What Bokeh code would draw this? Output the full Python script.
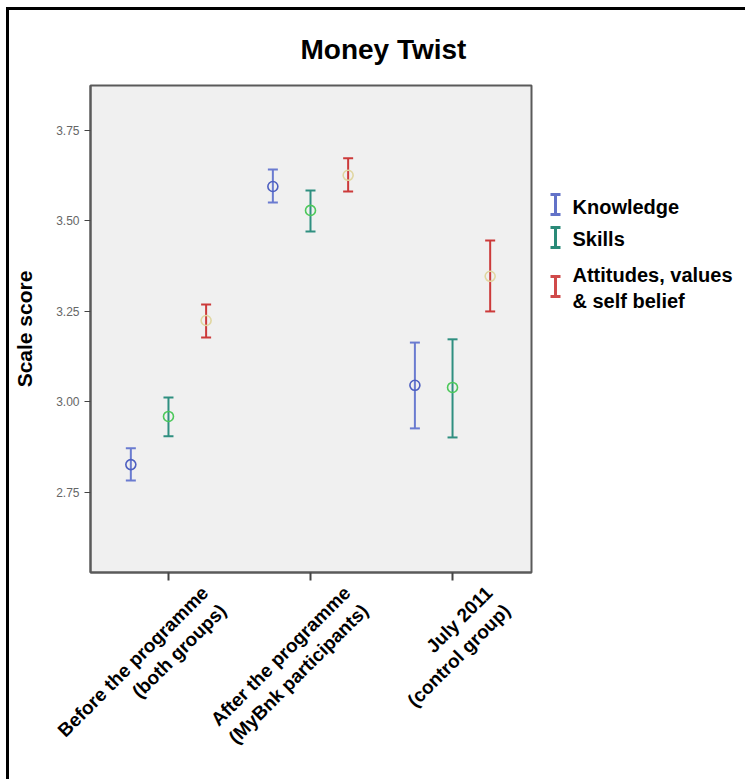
from bokeh.plotting import figure
from bokeh.models import Range1d, FixedTicker, PrintfTickFormatter, LinearAxis
from bokeh.layouts import row
from bokeh.core.properties import value
from bokeh.embed import file_html
from bokeh.resources import INLINE
from math import pi

# ---- data ----
categories = ["Before the programme\n(both groups)",
              "After the programme\n(MyBnk participants)",
              "July 2011\n(control group)"]
series_names = ["Knowledge", "Skills", "Attitudes, values\n& self belief"]

means_knowledge = [2.827, 3.595, 3.046]
low_knowledge = [2.783, 3.551, 2.927]
high_knowledge = [2.872, 3.642, 3.164]

means_skills = [2.960, 3.529, 3.040]
low_skills = [2.905, 3.471, 2.902]
high_skills = [3.012, 3.584, 3.173]

means_attitudes = [3.225, 3.626, 3.347]
low_attitudes = [3.178, 3.581, 3.250]
high_attitudes = [3.269, 3.673, 3.446]

y_ticks = [2.75, 3.00, 3.25, 3.50, 3.75]

# ---- styling ----
FONT = "Liberation Sans"
dodge = [-0.265, 0.0, 0.265]
label_shift = 0.32
marker_colors = ["#4d5fc0", "#4cc85a", "#e0d6a0"]
bar_colors = ["#6a7bd0", "#2f8f80", "#cc3a3a"]
icon_colors = ["#6272c8", "#2a8a78", "#d04a4a"]

Y0, Y1 = 2.529, 3.874
p = figure(width=531, height=769, output_backend="svg", toolbar_location=None,
           x_range=Range1d(0.451, 3.556), y_range=Range1d(Y0, Y1),
           min_border_left=81, min_border_right=9, min_border_top=75,
           min_border_bottom=207)

p.background_fill_color = "#f0f0f0"
p.border_fill_color = "white"
p.outline_line_color = "#5a5a5a"
p.outline_line_width = 2
p.xgrid.visible = False
p.ygrid.visible = False

p.title.text = "Money Twist"
p.title.text_font = FONT
p.title.text_font_style = "bold"
p.title.text_font_size = "28px"
p.title.align = "left"
p.title.offset = 210
p.title.standoff = 41
p.title.text_color = "black"

# y axis
p.yaxis.ticker = FixedTicker(ticks=y_ticks)
p.yaxis.formatter = PrintfTickFormatter(format="%.2f")
p.yaxis.major_label_text_font = FONT
p.yaxis.major_label_text_font_size = "12px"
p.yaxis.major_label_text_color = "#666666"
p.yaxis.major_tick_line_color = "#444444"
p.yaxis.major_tick_out = 6
p.yaxis.major_tick_in = 0
p.yaxis.minor_tick_line_color = None
p.yaxis.axis_line_color = "#5a5a5a"
p.yaxis.axis_line_width = 2
p.yaxis.major_label_standoff = 5
p.yaxis.axis_label = "Scale score"
p.yaxis.axis_label_text_font = FONT
p.yaxis.axis_label_text_font_style = "bold"
p.yaxis.axis_label_text_font_size = "21px"
p.yaxis.axis_label_text_color = "black"
p.yaxis.axis_label_standoff = 17

# x axis: ticks at the categories
xpos = [i + 1 for i in range(len(categories))]
tick_axis = p.below[0]
tick_axis.ticker = FixedTicker(ticks=xpos)
tick_axis.major_label_text_color = None
tick_axis.major_label_text_font_size = "1px"
tick_axis.major_tick_line_color = "#444444"
tick_axis.major_tick_line_width = 2
tick_axis.major_tick_out = 8
tick_axis.major_tick_in = 0
tick_axis.minor_tick_line_color = None
tick_axis.axis_line_color = "#5a5a5a"
tick_axis.axis_line_width = 2
tick_axis.major_label_standoff = 0

# x axis: slanted category labels
label_ticks = [x + label_shift for x in xpos]
lab_axis = LinearAxis(ticker=FixedTicker(ticks=label_ticks),
                      major_label_overrides={t: c for t, c in zip(label_ticks, categories)},
                      major_label_orientation=pi / 4,
                      major_label_text_font=FONT, major_label_text_font_style="bold",
                      major_label_text_font_size="19px", major_label_text_color="black",
                      major_label_standoff=18,
                      axis_line_color=None, major_tick_line_color=None,
                      minor_tick_line_color=None, major_tick_out=0, major_tick_in=0)
p.add_layout(lab_axis, "below")

# error bars with means
data = [(means_knowledge, low_knowledge, high_knowledge),
        (means_skills, low_skills, high_skills),
        (means_attitudes, low_attitudes, high_attitudes)]
for si, (m, lo, hi) in enumerate(data):
    xs = [x + dodge[si] for x in xpos]
    p.segment(x0=xs, y0=lo, x1=xs, y1=hi, line_color=bar_colors[si], line_width=2)
    p.scatter(x=xs + xs, y=lo + hi, marker="dash", size=10, line_color=bar_colors[si], line_width=2)
    p.scatter(x=xs, y=m, marker="circle", size=10, fill_color=None,
              line_color=marker_colors[si], line_width=1.6)

# ---- legend panel (pixel layout space, measured from the top of the plot area) ----
leg = figure(width=205, height=769, output_backend="svg", toolbar_location=None,
             x_range=Range1d(0, 205), y_range=Range1d(487, 0),
             min_border=0, outline_line_color=None)
leg.axis.visible = False
leg.grid.visible = False
leg.background_fill_color = "white"
leg.border_fill_color = "white"

icon_x = [15, 15, 15]
icon_y = [119, 152, 201]
icon_half = 10
leg.segment(x0=icon_x, y0=[y - icon_half for y in icon_y], x1=icon_x,
            y1=[y + icon_half for y in icon_y], line_color=icon_colors, line_width=3)
leg.scatter(x=icon_x + icon_x, y=[y - icon_half for y in icon_y] + [y + icon_half for y in icon_y],
            marker="dash", size=10, line_color=icon_colors + icon_colors, line_width=3)

text_y_first = [121, 153, 189]
line_gap = 26
tx, ty, tt = [], [], []
for si, name in enumerate(series_names):
    for li, line in enumerate(name.split("\n")):
        tx.append(32)
        ty.append(text_y_first[si] + li * line_gap)
        tt.append(line)
leg.text(x=tx, y=ty, text=tt, text_font=value(FONT), text_font_style="bold",
         text_font_size="20px", text_align="left", text_baseline="middle", text_color="black")

layout = row(p, leg)
layout.styles = {"margin-left": "6px", "margin-top": "7px",
                 "border-top": "3px solid black", "border-left": "3px solid black"}

open("out.html", "w").write(file_html(layout, INLINE))
